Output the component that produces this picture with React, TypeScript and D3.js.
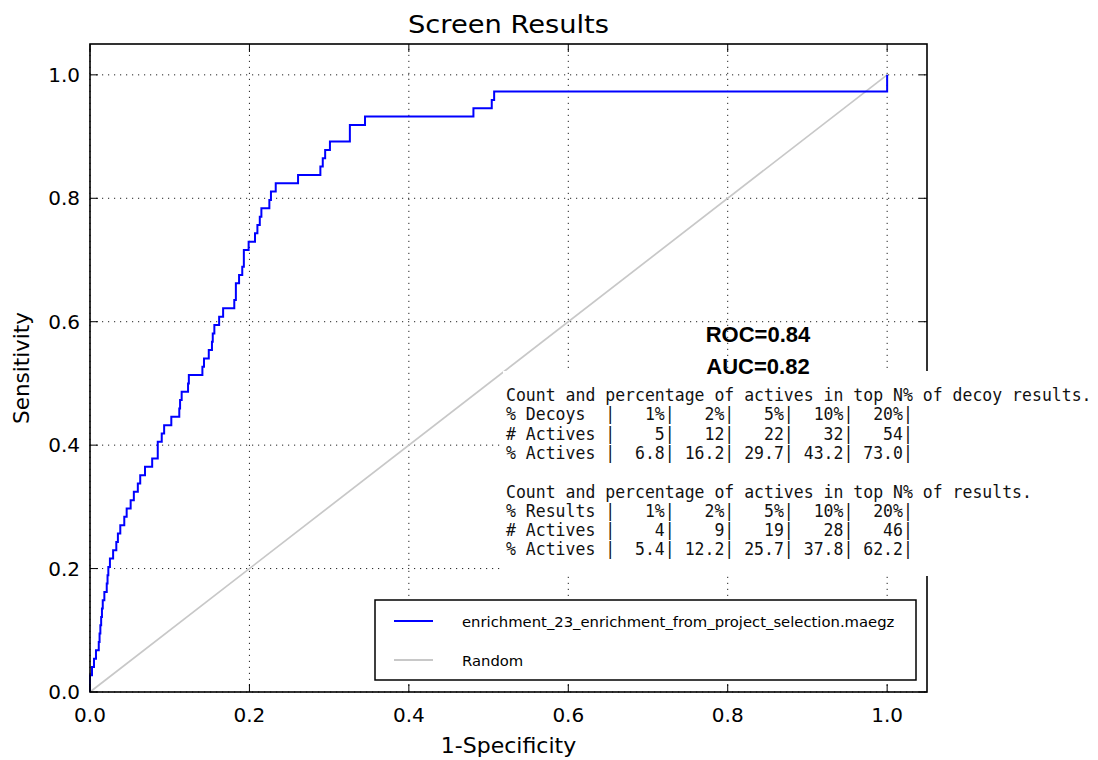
import React from "react";
import * as d3 from "d3";

// values
const xTicks = [0, 0.2, 0.4, 0.6, 0.8, 1.0];
const yTicks = [0, 0.2, 0.4, 0.6, 0.8, 1.0];
const totalActives = 74;
// 1-specificity at which each active is found, in rank order
const activeFpr = [
  0.0, 0.0, 0.0025, 0.005, 0.0075, 0.011, 0.012, 0.013, 0.014, 0.015,
  0.016, 0.018, 0.021, 0.022, 0.023, 0.025, 0.029, 0.033, 0.035, 0.038,
  0.043, 0.046, 0.051, 0.055, 0.06, 0.063, 0.069, 0.078, 0.085, 0.085,
  0.09, 0.093, 0.102, 0.112, 0.113, 0.115, 0.123, 0.124, 0.141, 0.143,
  0.149, 0.153, 0.154, 0.156, 0.162, 0.167, 0.181, 0.183, 0.183, 0.187,
  0.191, 0.193, 0.193, 0.199, 0.207, 0.21, 0.213, 0.215, 0.225, 0.227,
  0.233, 0.261, 0.289, 0.292, 0.295, 0.301, 0.326, 0.326, 0.345, 0.481,
  0.504, 0.507, 1.0, 1.0,
];
const randomLine: [number, number][] = [[0, 0], [1, 1]];
const statsLabels = ["ROC=0.84", "AUC=0.82"];
const decoyTable = [
  "Count and percentage of actives in top N% of decoy results.",
  "% Decoys  |   1%|   2%|   5%|  10%|  20%|",
  "# Actives |    5|   12|   22|   32|   54|",
  "% Actives |  6.8| 16.2| 29.7| 43.2| 73.0|",
];
const resultTable = [
  "Count and percentage of actives in top N% of results.",
  "% Results |   1%|   2%|   5%|  10%|  20%|",
  "# Actives |    4|    9|   19|   28|   46|",
  "% Actives |  5.4| 12.2| 25.7| 37.8| 62.2|",
];
const legendLabels = ["enrichment_23_enrichment_from_project_selection.maegz", "Random"];
const legendColors = ["#0000ff", "#c8c8c8"];

const width = 1098;
const height = 760;
const margin = { top: 44, right: 171, bottom: 68, left: 90 };

export default function App() {
  const x = d3.scaleLinear().domain([0, 1.05]).range([margin.left, width - margin.right]);
  const y = d3.scaleLinear().domain([0, 1.05]).range([height - margin.bottom, margin.top]);

  const rocPoints: [number, number][] = [[0, 0]].concat(
    activeFpr.map((f, i) => [f, (i + 1) / totalActives])
  ) as [number, number][];

  const stepLine = d3.line<[number, number]>()
    .x(d => x(d[0]))
    .y(d => y(d[1]))
    .curve(d3.curveStepAfter);
  const straight = d3.line<[number, number]>().x(d => x(d[0])).y(d => y(d[1]));

  const x0 = x(0), x1 = x(1.05), y0 = y(0), y1 = y(1.05);
  const tickLen = 8;
  const tickFont = "'DejaVu Sans', sans-serif";
  const mono = "'DejaVu Sans Mono', monospace";

  const tableX = 506;
  const rowH = 19.3;

  return (
    <svg width={width} height={height} style={{ position: "absolute", left: 0, top: 0, background: "#fff" }}>
      <rect x={0} y={0} width={width} height={height} fill="#fff" />

      {/* grid */}
      <g stroke="#222" strokeWidth={1} strokeDasharray="1.2,4.8">
        {xTicks.map(t => (
          <line key={"gx" + t} x1={x(t)} x2={x(t)} y1={y0} y2={y1} />
        ))}
        {yTicks.map(t => (
          <line key={"gy" + t} x1={x0} x2={x1} y1={y(t)} y2={y(t)} />
        ))}
      </g>

      <path d={straight(randomLine) || ""} fill="none" stroke={legendColors[1]} strokeWidth={1.7} />
      <path d={stepLine(rocPoints) || ""} fill="none" stroke={legendColors[0]} strokeWidth={2} />

      {/* frame and ticks */}
      <rect x={x0} y={y1} width={x1 - x0} height={y0 - y1} fill="none" stroke="#000" strokeWidth={1.6} />
      <g stroke="#000" strokeWidth={1}>
        {xTicks.map(t => (
          <g key={"tx" + t}>
            <line x1={x(t)} x2={x(t)} y1={y0} y2={y0 - tickLen} />
            <line x1={x(t)} x2={x(t)} y1={y1} y2={y1 + tickLen} />
          </g>
        ))}
        {yTicks.map(t => (
          <g key={"ty" + t}>
            <line x1={x0} x2={x0 + tickLen} y1={y(t)} y2={y(t)} />
            <line x1={x1} x2={x1 - tickLen} y1={y(t)} y2={y(t)} />
          </g>
        ))}
      </g>

      {/* legend */}
      <rect x={375} y={600} width={541} height={80} fill="#fff" stroke="#000" strokeWidth={1.5} />
      {legendLabels.map((lab, i) => (
        <g key={lab} transform={`translate(0, ${621 + i * 39})`}>
          <line x1={394} x2={433} y1={0} y2={0} stroke={legendColors[i]} strokeWidth={1.8} />
          <text x={462} y={5.5} fontFamily={tickFont} fontSize={14.8} fill="#000">{lab}</text>
        </g>
      ))}

      {/* stats table pasted over the plot */}
      <rect x={503} y={371} width={width - 503} height={205} fill="#fff" />
      {[decoyTable, resultTable].map((tbl, ti) =>
        tbl.map((line, li) => (
          <text
            key={ti + "-" + li}
            transform={`translate(${tableX}, ${401 + (ti * 5 + li) * rowH}) scale(1, 1.12)`}
            fontFamily={mono}
            fontSize={16.5}
            fill="#111"
            style={{ whiteSpace: "pre" }}
          >
            {line}
          </text>
        ))
      )}

      {statsLabels.map((s, i) => (
        <text key={s} x={758} y={342 + i * 32} textAnchor="middle" fontFamily="'Liberation Sans', Arial, sans-serif"
          fontWeight="bold" fontSize={22} fill="#000">{s}</text>
      ))}

      {/* tick labels */}
      {xTicks.map(t => (
        <text key={"lx" + t} x={x(t)} y={y0 + 30} textAnchor="middle" fontFamily={tickFont} fontSize={20}>
          {t.toFixed(1)}
        </text>
      ))}
      {yTicks.map(t => (
        <text key={"ly" + t} x={x0 - 10} y={y(t) + 7} textAnchor="end" fontFamily={tickFont} fontSize={20}>
          {t.toFixed(1)}
        </text>
      ))}

      <text x={(x0 + x1) / 2} y={33} textAnchor="middle" fontFamily={tickFont} fontSize={24}
        textLength={201} lengthAdjust="spacingAndGlyphs">Screen Results</text>
      <text x={(x0 + x1) / 2} y={753} textAnchor="middle" fontFamily={tickFont} fontSize={22}>1-Specificity</text>
      <text transform={`translate(29, ${(y0 + y1) / 2}) rotate(-90)`} textAnchor="middle" fontFamily={tickFont} fontSize={21.5}>
        Sensitivity
      </text>
    </svg>
  );
}
